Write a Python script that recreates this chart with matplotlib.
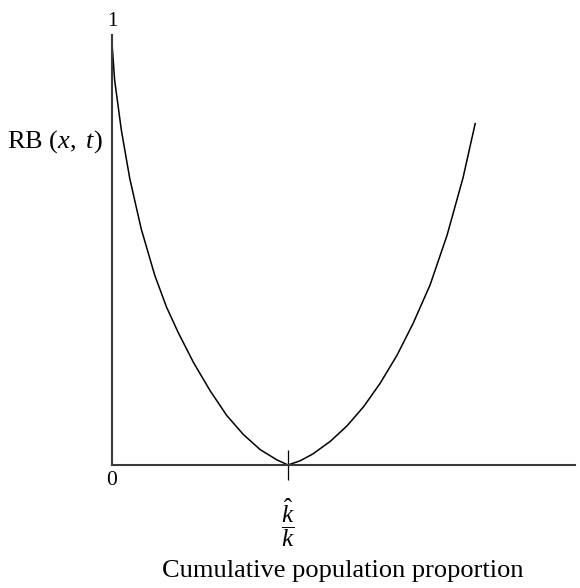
import matplotlib
matplotlib.use('Agg')
import matplotlib.pyplot as plt

plt.rcParams['font.family'] = ['Liberation Serif', 'DejaVu Serif']
plt.rcParams['mathtext.fontset'] = 'custom'
plt.rcParams['mathtext.rm'] = 'Liberation Serif'
plt.rcParams['mathtext.it'] = 'Liberation Serif:italic'

# curve; x in units of k_hat/k, y as share of 1
x_vals = [0.0, 0.015, 0.053, 0.101, 0.166, 0.243, 0.31, 0.375, 0.462, 0.557,
          0.652, 0.746, 0.841, 0.936, 1.0, 1.07, 1.142, 1.24, 1.335, 1.43,
          1.523, 1.62, 1.71, 1.807, 1.903, 1.994, 2.063]
y_vals = [0.981, 0.895, 0.779, 0.666, 0.549, 0.441, 0.367, 0.309, 0.239, 0.173,
          0.115, 0.071, 0.036, 0.012, 0.0, 0.010, 0.026, 0.055, 0.091, 0.136,
          0.190, 0.256, 0.329, 0.419, 0.534, 0.668, 0.794]
x_max = 2.63
tick_pos = [1.0]
tick_lbl = [r'$\dfrac{\hat{k}}{k}$']

fig = plt.figure(figsize=(5.8, 5.88), dpi=100)
ax = fig.add_axes([112/580, 123/588, 463/580, 430/588])

ax.plot(x_vals, y_vals, color='black', lw=1.1, solid_joinstyle='round')
ax.set_xlim(0, x_max)
ax.set_ylim(0, 1)

for s in ['top', 'right']:
    ax.spines[s].set_visible(False)
for s in ['left', 'bottom']:
    ax.spines[s].set_color('#3a3a3a')
    ax.spines[s].set_linewidth(1.5)

ax.set_yticks([])
ax.set_xticks(tick_pos)
ax.set_xticklabels(tick_lbl, fontsize=18)
ax.tick_params(axis='x', direction='inout', length=21, width=0.9, pad=12)

ax.text(0.0, -0.035, '0', ha='center', va='center', fontsize=15.5)
ax.text(0.0, 1.032, '1', ha='center', va='center', fontsize=15)
ax.text(-0.051, 0.751, r'$\mathrm{RB}\ (x,\ t)$', ha='right', va='center', fontsize=19)
fig.text(343/580, 1 - 577/588, 'Cumulative population proportion',
         ha='center', va='baseline', fontsize=19)

fig.savefig('out.png', dpi=100)
